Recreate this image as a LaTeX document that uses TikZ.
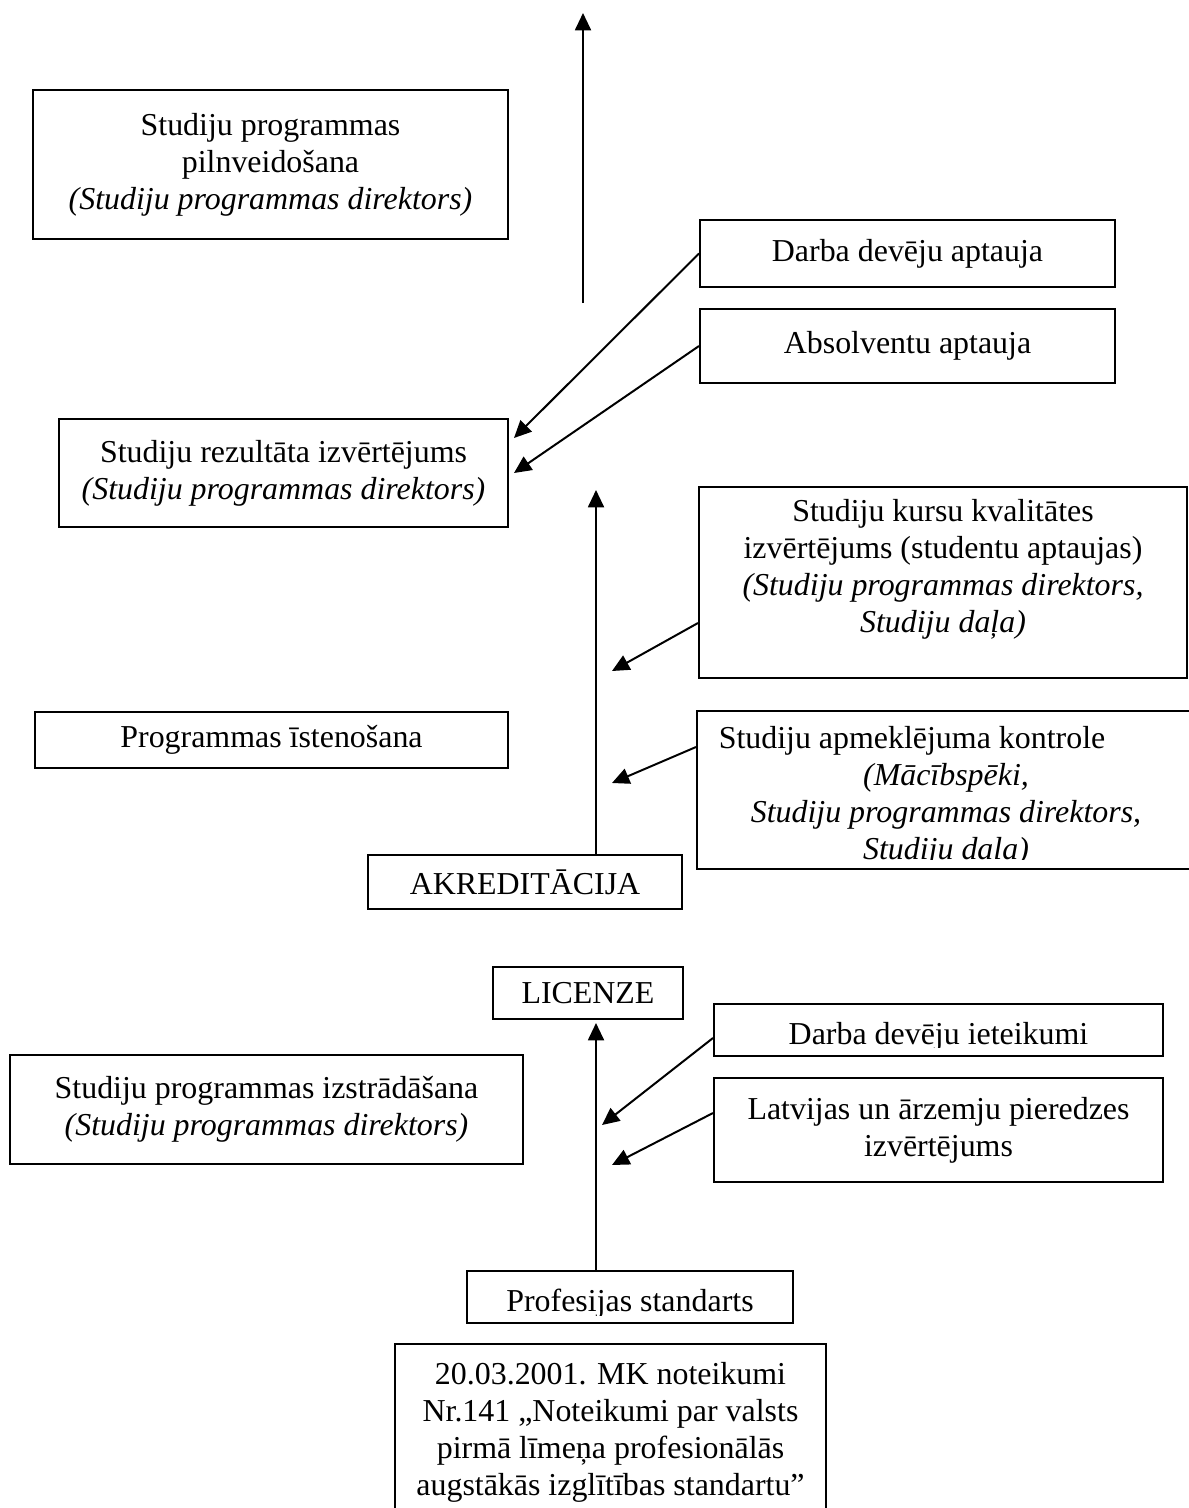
\documentclass[tikz,border=0pt]{standalone}
\usepackage{fontspec}
\setmainfont{Liberation Serif}
\usetikzlibrary{arrows.meta,positioning}
\newdimen\px \px=0.376pt

\begin{document}
\begin{tikzpicture}[x=0.376pt,y=-0.376pt,
    font=\fontsize{12pt}{13.9pt}\selectfont,
    box/.style={draw, line width=0.75pt, inner sep=0pt, align=center},
    txt/.style={inner sep=0pt, align=center},
    arr/.style={line width=0.75pt, -{Triangle[length=6.5pt,width=6pt]}}]
    \useasboundingbox (0,0) rectangle (1189,1508);

    % Improvement of the programme
    \node[box, minimum width=475*\px, minimum height=149*\px] (pilnv) at (270.5,164.5)
        {Studiju programmas\\ pilnveidošana\\ \textit{(Studiju programmas direktors)}};
    \coordinate (topS) at (583,303);
    \coordinate (topE) at (583,13);
    \draw[arr] (topS) -- (topE);

    % Surveys and result evaluation
    \node[box, minimum width=415*\px, minimum height=67*\px] (darba) at (907.5,253.5) {Darba devēju aptauja};
    \node[box, minimum width=415*\px, minimum height=74*\px] (absolv) at (907.5,346) {Absolventu aptauja};
    \node[box, minimum width=449*\px, minimum height=108*\px] (rezult) at (283.5,473)
        {Studiju rezultāta izvērtējums\\ \textit{(Studiju programmas direktors)}};
    \coordinate (rezA) at (514,438);
    \coordinate (rezB) at (514,473);
    \draw[arr] (darba.west) -- (rezA);
    \draw[arr] (absolv.west) -- (rezB);

    % Implementation
    \node[box, minimum width=488*\px, minimum height=191*\px] (kursu) at (943,582.5) {};
    \node[txt] (kursutxt) at (943,569)
        {Studiju kursu kvalitātes\\ izvērtējums (studentu aptaujas)\\
         \textit{(Studiju programmas direktors,}\\ \textit{Studiju daļa)}};
    \node[box, minimum width=473*\px, minimum height=56*\px] (prog) at (271.5,740) {Programmas īstenošana};
    \node[box, minimum width=518*\px, minimum height=158*\px] (apmekl) at (956,790) {};
    \begin{scope}
        \clip (apmekl.north west) rectangle ([yshift=11*\px]apmekl.south east);
        \node[txt] (apmtxt) at (946,796)
            {Studiju apmeklējuma kontrole\hspace*{68\px}\\ \textit{(Mācībspēki,}\\
             \textit{Studiju programmas direktors,}\\ \textit{Studiju daļa)}};
    \end{scope}
    \node[box, minimum width=314*\px, minimum height=54*\px] (akred) at (525,882) {AKREDITĀCIJA};
    \coordinate (akTip) at (596,490);
    \coordinate (kTip) at (612,671);
    \coordinate (aTip) at (612,783);
    \draw[arr] (akred.north -| akTip) -- (akTip);
    \draw[arr] (kursu.south west) ++(0,-56) -- (kTip);
    \draw[arr] (apmekl.north west) ++(0,37) -- (aTip);

    % Licence
    \node[box, minimum width=190*\px, minimum height=52*\px] (lic) at (588,993) {LICENZE};
    \node[box, minimum width=449*\px, minimum height=52*\px] (iet) at (938.5,1030) {};
    \begin{scope}
        \clip (iet.north west) rectangle ([yshift=10*\px]iet.south east);
        \node[txt] (iettxt) at (938.5,1037) {Darba devēju ieteikumi};
    \end{scope}
    \node[box, minimum width=513*\px, minimum height=109*\px] (izstr) at (266.5,1109.5)
        {Studiju programmas izstrādāšana\\ \textit{(Studiju programmas direktors)}};
    \node[box, minimum width=449*\px, minimum height=104*\px] (latv) at (938.5,1130)
        {Latvijas un ārzemju pieredzes\\ izvērtējums};
    \node[box, minimum width=326*\px, minimum height=52*\px] (prof) at (630,1297) {};
    \begin{scope}
        \clip (prof.north west) rectangle ([yshift=9*\px]prof.south east);
        \node[txt] (proftxt) at (630,1304) {Profesijas standarts};
    \end{scope}
    \coordinate (lTip) at (596,1023);
    \coordinate (iTip) at (602,1125);
    \coordinate (vTip) at (612,1165);
    \draw[arr] (prof.north -| lTip) -- (lTip);
    \draw[arr] (iet.south west) ++(0,-19) -- (iTip);
    \draw[arr] (latv.north west) ++(0,36) -- (vTip);

    % Regulation
    \node[box, minimum width=431*\px, minimum height=176*\px] (mk) at (610.5,1432)
        {20.03.2001. MK noteikumi\\ Nr.141 „Noteikumi par valsts\\
         pirmā līmeņa profesionālās\\ augstākās izglītības standartu”};
\end{tikzpicture}
\end{document}
